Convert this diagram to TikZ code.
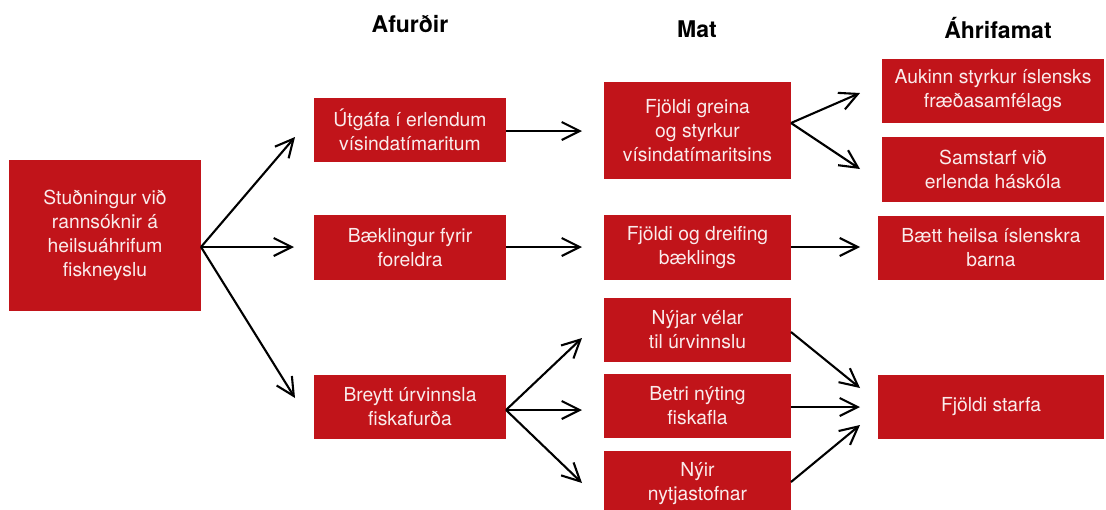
\documentclass[tikz,border=0pt]{standalone}
\usepackage{fontspec}
\setmainfont{TeX Gyre Heros}
\usetikzlibrary{arrows.meta}
\definecolor{boxred}{RGB}{193,20,26}
\definecolor{boxtext}{RGB}{250,236,236}
\tikzset{
  box/.style={fill=boxred, text=boxtext, align=center, inner sep=0pt,
    font=\fontsize{19.3}{24}\selectfont},
  arr/.style={-{Straight Barb[length=18pt,width=18pt]}, line width=2.1pt, black},
  head/.style={font=\fontsize{23}{27}\selectfont\bfseries, anchor=base}
}
\begin{document}
\begin{tikzpicture}[x=1pt,y=-1pt]
\useasboundingbox (0,0) rectangle (1106,509);
% headings
\node[head] (h1) at (410,32) {Afurðir};
\node[head] (h2) at (697,37) {Mat};
\node[head] (h3) at (998,38) {Áhrifamat};
% boxes
\node[box, minimum width=192, minimum height=151] (s) at (105,235.5) {Stuðningur við\\rannsóknir á\\heilsuáhrifum\\fiskneyslu};
\node[box, minimum width=192, minimum height=64] (u) at (410,129.5) {Útgáfa í erlendum\\vísindatímaritum};
\node[box, minimum width=192, minimum height=65] (b) at (410,247.5) {Bæklingur fyrir\\foreldra};
\node[box, minimum width=192, minimum height=64] (r) at (410,407) {Breytt úrvinnsla\\fiskafurða};
\node[box, minimum width=187, minimum height=97] (m1) at (697.5,130.5) {Fjöldi greina\\og styrkur\\vísindatímaritsins};
\node[box, minimum width=187, minimum height=65] (m2) at (697.5,247.5) {Fjöldi og dreifing\\bæklings};
\node[box, minimum width=187, minimum height=64] (m3) at (697.5,330) {Nýjar vélar\\til úrvinnslu};
\node[box, minimum width=187, minimum height=64] (m4) at (697.5,406) {Betri nýting\\fiskafla};
\node[box, minimum width=187, minimum height=66] (m5) at (697.5,484) {Nýir\\nytjastofnar};
\node[box, minimum width=222, minimum height=64] (a1) at (993,91) {Aukinn styrkur íslensks\\fræðasamfélags};
\node[box, minimum width=222, minimum height=65] (a2) at (993,169.5) {Samstarf við\\erlenda háskóla};
\node[box, minimum width=226, minimum height=64] (a3) at (991,248) {Bætt heilsa íslenskra\\barna};
\node[box, minimum width=226, minimum height=64] (a4) at (991,407) {Fjöldi starfa};
% arrow start/end points
\coordinate (s0) at (201,247);
\coordinate (t1) at (295,137);
\coordinate (t2) at (294,247);
\coordinate (t3) at (295,398);
\coordinate (u0) at (506,131);
\coordinate (tu) at (582,131);
\coordinate (b0) at (506,247);
\coordinate (tb) at (582,247);
\coordinate (r0) at (506,410);
\coordinate (tr1) at (582,338);
\coordinate (tr2) at (582,410);
\coordinate (tr3) at (582,483);
\coordinate (m10) at (791,123);
\coordinate (ta1) at (860,93);
\coordinate (ta2) at (860,169);
\coordinate (m20) at (791,247);
\coordinate (ta3) at (860,247);
\coordinate (m30) at (791,332);
\coordinate (m40) at (791,407);
\coordinate (m50) at (791,482);
\coordinate (ta4a) at (860,388);
\coordinate (ta4b) at (860,407);
\coordinate (ta4c) at (860,425);
% arrows
\draw[arr] (s0) -- (t1);
\draw[arr] (s0) -- (t2);
\draw[arr] (s0) -- (t3);
\draw[arr] (u0) -- (tu);
\draw[arr] (b0) -- (tb);
\draw[arr] (r0) -- (tr1);
\draw[arr] (r0) -- (tr2);
\draw[arr] (r0) -- (tr3);
\draw[arr] (m10) -- (ta1);
\draw[arr] (m10) -- (ta2);
\draw[arr] (m20) -- (ta3);
\draw[arr] (m30) -- (ta4a);
\draw[arr] (m40) -- (ta4b);
\draw[arr] (m50) -- (ta4c);
\end{tikzpicture}
\end{document}
